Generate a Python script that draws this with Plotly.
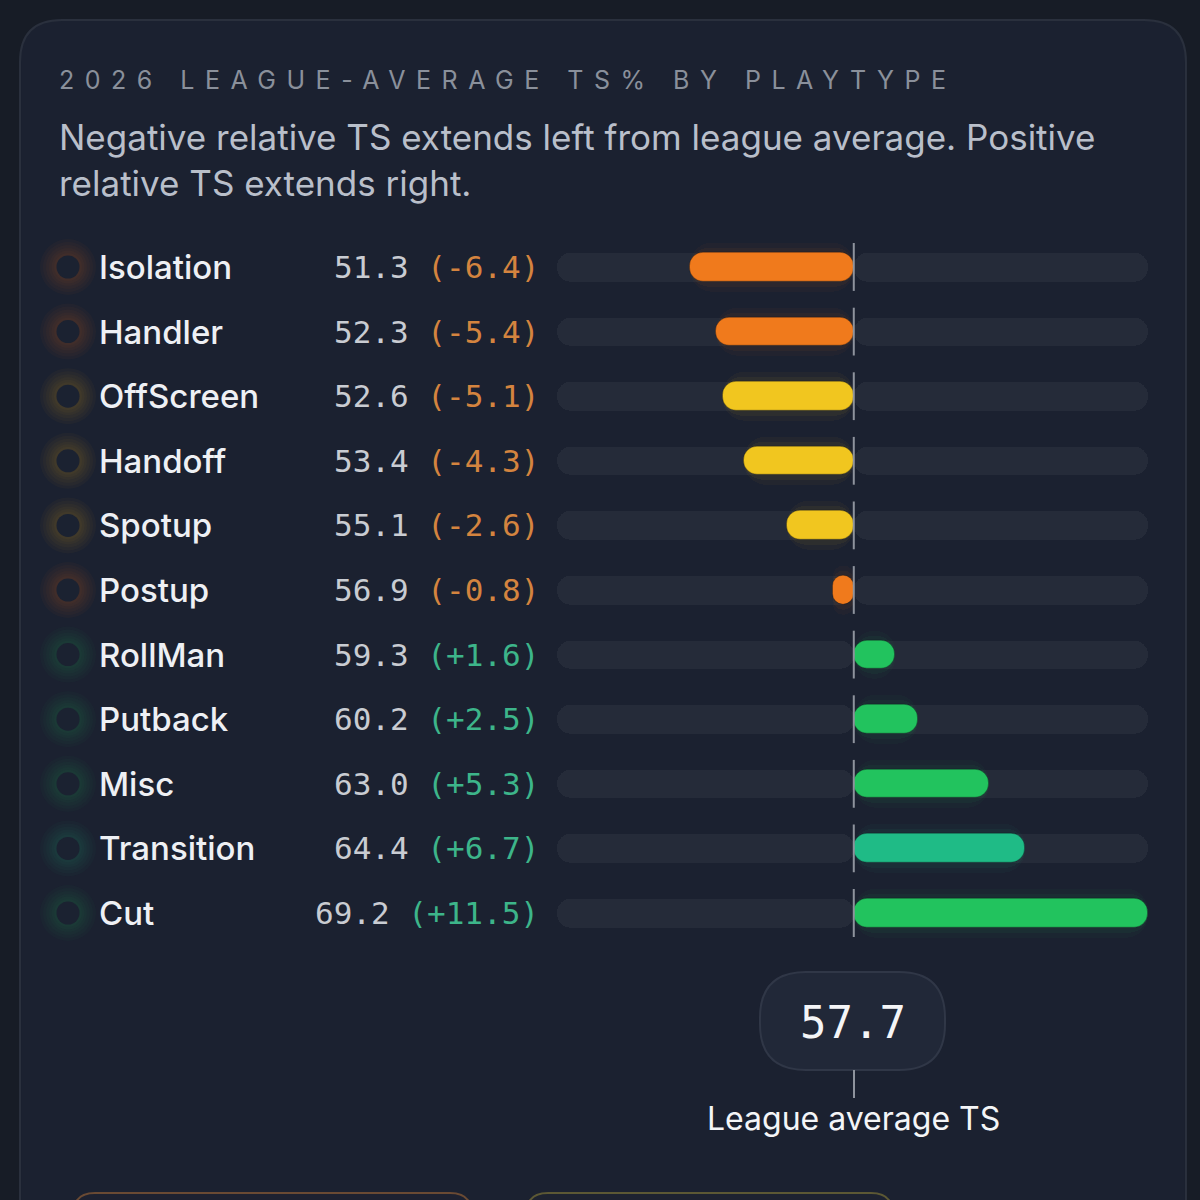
import plotly.graph_objects as go

# data
playtypes = ["Isolation", "Handler", "OffScreen", "Handoff", "Spotup", "Postup",
             "RollMan", "Putback", "Misc", "Transition", "Cut"]
ts_values = [51.3, 52.3, 52.6, 53.4, 55.1, 56.9, 59.3, 60.2, 63.0, 64.4, 69.2]
rel_ts = [-6.4, -5.4, -5.1, -4.3, -2.6, -0.8, 1.6, 2.5, 5.3, 6.7, 11.5]
bar_groups = ["orange", "orange", "yellow", "yellow", "yellow", "orange",
              "green", "green", "green", "teal", "green"]
league_avg = 57.7

W = H = 1200
BG = "#171c26"
CARD = "#1b2130"
TRACK = "#252b39"
PALETTE = {"orange": "#f07a1c", "yellow": "#f1c61f", "green": "#22c35e", "teal": "#1fbb86"}
NEG_TXT = "#d4843f"
POS_TXT = "#3db58a"

# pixel geometry
ROW0, ROW_STEP = 267, 64.6
X_LEFT, X_RIGHT = 557, 1148
LIM_L, LIM_R = -11.6, 11.5


def px(x):
    return x / W


def py(y):
    return 1 - y / H


def rounded(x0, y0, x1, y1, r):
    # rounded rectangle in pixels -> svg path in paper units
    pts = [
        ("M", [(x0 + r, y0)]), ("L", [(x1 - r, y0)]), ("Q", [(x1, y0), (x1, y0 + r)]),
        ("L", [(x1, y1 - r)]), ("Q", [(x1, y1), (x1 - r, y1)]), ("L", [(x0 + r, y1)]),
        ("Q", [(x0, y1), (x0, y1 - r)]), ("L", [(x0, y0 + r)]), ("Q", [(x0, y0), (x0 + r, y0)]),
    ]
    s = ""
    for cmd, ps in pts:
        s += cmd + " " + " ".join(f"{px(a):.5f},{py(b):.5f}" for a, b in ps) + " "
    return s + "Z"


rows = list(range(len(playtypes)))
colors = [PALETTE[g] for g in bar_groups]
fig = go.Figure()

# background tracks (two halves so both outer ends are rounded)
for lim in (LIM_L, LIM_R):
    fig.add_trace(go.Bar(
        y=rows, x=[lim] * len(rows), base=0, orientation="h", width=0.44,
        marker=dict(color=TRACK, cornerradius=14, line=dict(width=0)),
        hoverinfo="skip", showlegend=False,
    ))

# soft glow behind bars
for w, op in ((0.75, 0.035), (0.6, 0.05)):
    fig.add_trace(go.Bar(
        y=rows, x=rel_ts, base=0, orientation="h", width=w,
        marker=dict(color=colors, opacity=op, cornerradius=22, line=dict(width=0)),
        hoverinfo="skip", showlegend=False,
    ))

# relative TS bars
fig.add_trace(go.Bar(
    y=rows, x=rel_ts, base=0, orientation="h", width=0.44,
    marker=dict(color=colors, cornerradius=14,
                line=dict(width=1, color="rgba(0,0,0,0.25)")),
    hovertemplate="%{customdata}<extra></extra>",
    customdata=playtypes, showlegend=False,
))

# league-average tick through each row
zx, zy = [], []
for r in rows:
    zx += [0, 0, None]
    zy += [r - 0.37, r + 0.37, None]
fig.add_trace(go.Scatter(x=zx, y=zy, mode="lines", line=dict(color="#8e939d", width=2),
                         hoverinfo="skip", showlegend=False))

# dots with a soft glow on the left
for size in (56, 50, 44, 38, 33, 28):
    fig.add_trace(go.Scatter(
        x=[68] * len(rows), y=rows, xaxis="x2", mode="markers",
        marker=dict(size=size, color=colors, opacity=0.03, line=dict(width=0)),
        hoverinfo="skip", showlegend=False,
    ))
fig.add_trace(go.Scatter(
    x=[68] * len(rows), y=rows, xaxis="x2", mode="markers",
    marker=dict(size=23, color="#1b2231", line=dict(width=0)),
    hoverinfo="skip", showlegend=False,
))

annotations = []
for r, name, v, d in zip(rows, playtypes, ts_values, rel_ts):
    annotations.append(dict(
        x=px(97), y=r, xref="paper", yref="y", text=name, showarrow=False,
        xanchor="left", yanchor="middle",
        font=dict(family="Inter", size=33, color="#eef0f4", weight=500),
    ))
    col = NEG_TXT if d < 0 else POS_TXT
    annotations.append(dict(
        x=px(541), y=r, xref="paper", yref="y", showarrow=False,
        xanchor="right", yanchor="middle",
        text=f"<span style='color:#c9ccd2'>{v:.1f}</span> <span style='color:{col}'>({d:+.1f})</span>",
        font=dict(family="DejaVu Sans Mono", size=31),
    ))

annotations += [
    dict(x=px(57), y=py(80), xref="paper", yref="paper", xanchor="left", yanchor="middle",
         showarrow=False, text="<span style='letter-spacing:10.5px'>2026 LEAGUE-AVERAGE TS% BY PLAYTYPE</span>",
         font=dict(family="Inter", size=25, color="#8a909b")),
    dict(x=px(57), y=py(160), xref="paper", yref="paper", xanchor="left", yanchor="middle",
         showarrow=False, align="left",
         text="Negative relative TS extends left from league average. Positive<br>relative TS extends right.",
         font=dict(family="Inter", size=35, color="#b9bfca")),
    dict(x=px(853), y=py(1022), xref="paper", yref="paper", xanchor="center", yanchor="middle",
         showarrow=False, text=f"{league_avg:.1f}",
         font=dict(family="DejaVu Sans Mono", size=44, color="#f4f5f7")),
    dict(x=px(853), y=py(1118), xref="paper", yref="paper", xanchor="center", yanchor="middle",
         showarrow=False, text="League average TS",
         font=dict(family="Inter", size=32, color="#f4f5f7")),
]

shapes = [
    dict(type="path", xref="paper", yref="paper", layer="below",
         path=rounded(20, 20, 1186, 1300, 42), fillcolor=CARD,
         line=dict(color="#2a303d", width=2)),
    dict(type="path", xref="paper", yref="paper", layer="above",
         path=rounded(760, 972, 945, 1070, 46), fillcolor="#212838",
         line=dict(color="#303747", width=2)),
    dict(type="line", xref="paper", yref="paper", x0=px(854), x1=px(854),
         y0=py(1070), y1=py(1098), line=dict(color="#8e939d", width=2)),
    dict(type="path", xref="paper", yref="paper", layer="below",
         path=rounded(73, 1193, 472, 1280, 22), fillcolor="#1d2130",
         line=dict(color="#6a4a33", width=2)),
    dict(type="path", xref="paper", yref="paper", layer="below",
         path=rounded(526, 1193, 893, 1280, 22), fillcolor="#1d2230",
         line=dict(color="#5c5834", width=2)),
]

y_top = ROW0 - ROW_STEP / 2
y_bot = ROW0 + ROW_STEP * (len(rows) - 0.5)

fig.update_layout(
    width=W, height=H,
    margin=dict(l=0, r=0, t=0, b=0),
    paper_bgcolor=BG, plot_bgcolor="rgba(0,0,0,0)",
    barmode="overlay", bargap=0,
    xaxis=dict(domain=[px(X_LEFT), px(X_RIGHT)], range=[LIM_L, LIM_R],
               visible=False, fixedrange=True),
    xaxis2=dict(domain=[0, 1], range=[0, W], anchor="y",
                visible=False, fixedrange=True),
    yaxis=dict(domain=[py(y_bot), py(y_top)], range=[len(rows) - 0.5, -0.5],
               visible=False, fixedrange=True),
    annotations=annotations,
    shapes=shapes,
    hovermode="closest",
)

fig.write_html("out.html", config={"displayModeBar": False},
               post_script="document.body.style.margin='0';")
